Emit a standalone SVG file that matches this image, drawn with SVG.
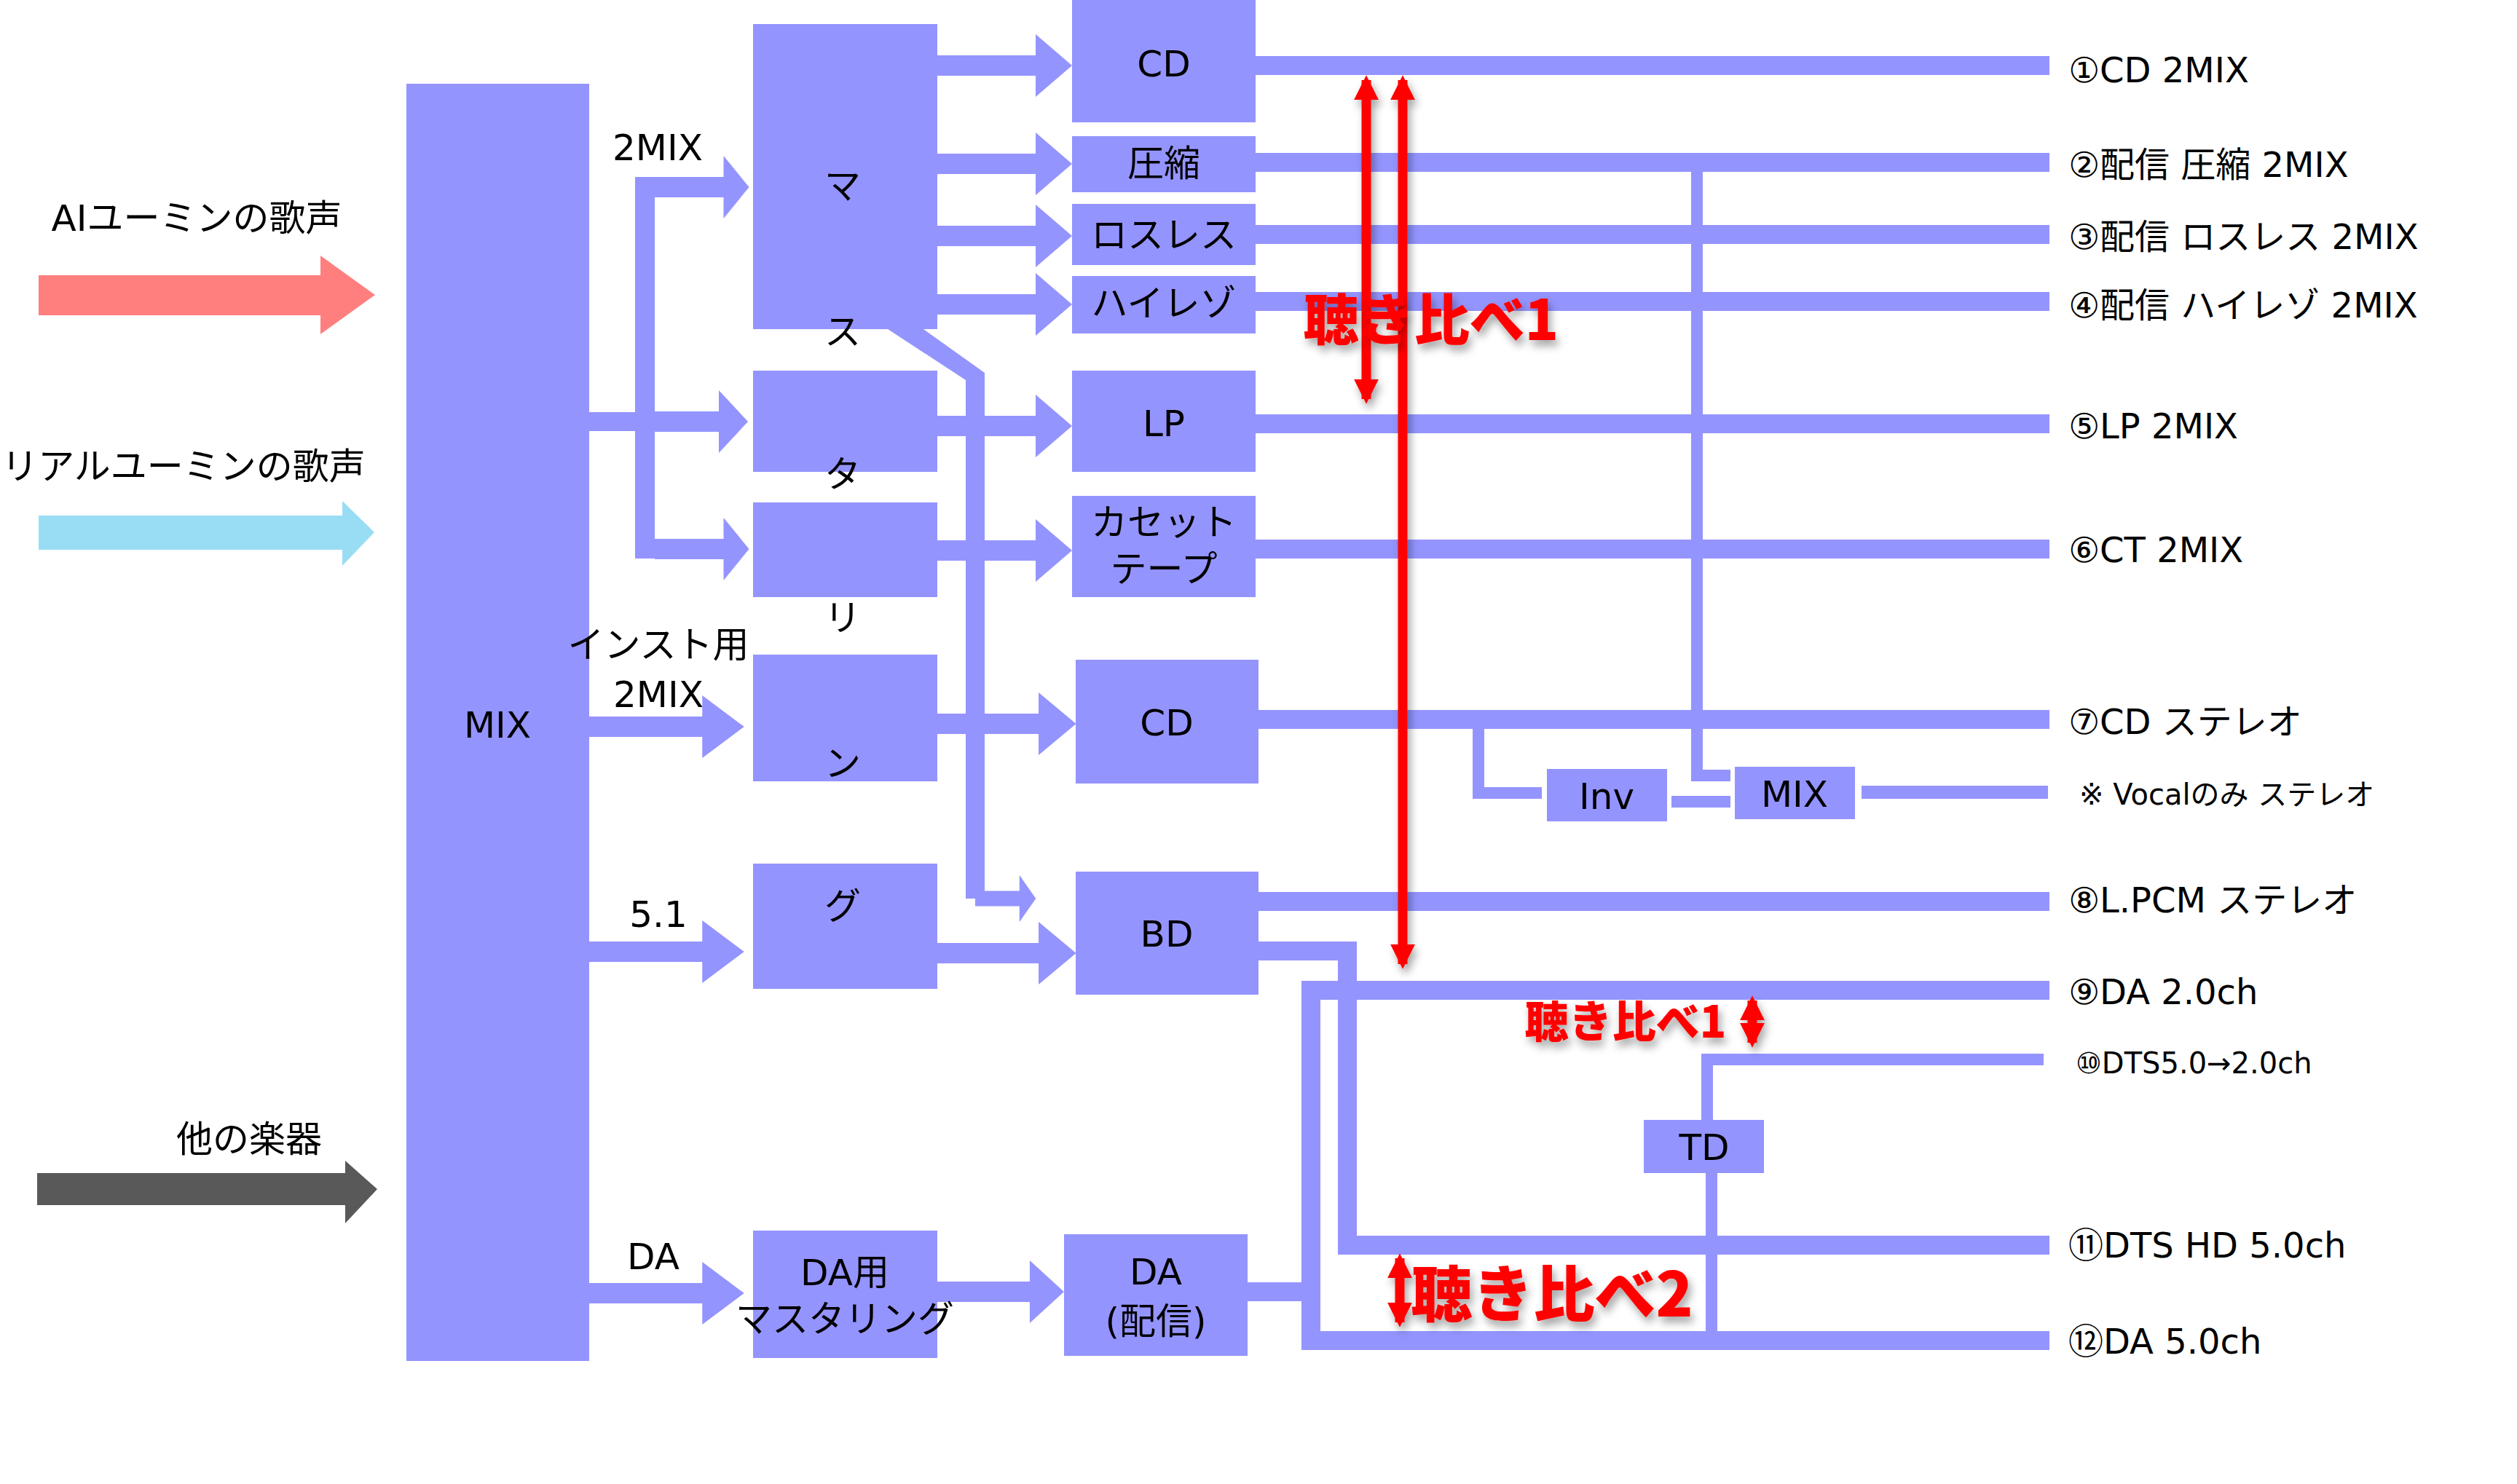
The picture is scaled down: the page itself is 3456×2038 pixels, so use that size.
<svg xmlns="http://www.w3.org/2000/svg" width="3456" height="2038" viewBox="0 0 3456 2038">
<style>
.b{fill:#9494FF}
.t{font-family:"DejaVu Sans","Noto Sans CJK JP",sans-serif;font-size:50px;fill:#000;text-anchor:middle;dominant-baseline:central}
.l{font-family:"DejaVu Sans","Noto Sans CJK JP",sans-serif;font-size:48px;fill:#000;dominant-baseline:central}
.s{font-size:40px}
.ln{stroke:#9494FF;fill:none}
.r{font-family:"Noto Sans CJK JP","DejaVu Sans",sans-serif;font-weight:900;fill:#FF0000;text-anchor:middle;dominant-baseline:central;filter:url(#sh)}
</style>
<defs>
<filter id="sh" x="-20%" y="-20%" width="140%" height="160%"><feDropShadow dx="4" dy="8" stdDeviation="6" flood-color="#000" flood-opacity="0.35"/></filter>
<marker id="rh" viewBox="0 0 10 10" refX="8" refY="5" markerWidth="2.6" markerHeight="2.6" orient="auto-start-reverse"><path d="M0,0 L10,5 L0,10 z" fill="#FF0000"/></marker>
<path id="ar" d="M0,-14 H135 V-43 L185,0 L135,43 V14 H0 Z"/>
</defs>
<g id="inputs">
<path d="M53,378 H440 V351 L515,405 L440,459 V433 H53 Z" fill="#FF7F7F"/>
<text class="t" x="270" y="300">AIユーミンの歌声</text>
<path d="M53,708 H470 V688 L514,731 L470,777 V755 H53 Z" fill="#99DDF5"/>
<text class="t" x="252" y="641">リアルユーミンの歌声</text>
<path d="M51,1611 H474 V1594 L518,1633 L474,1680 V1655 H51 Z" fill="#595959"/>
<text class="t" x="342" y="1565">他の楽器</text>
</g>
<g id="connectors">
<g class="b">
<rect x="809" y="566" width="70" height="26"/>
<use href="#ar" transform="translate(879,579) scale(0.8,1)"/>
<rect x="872" y="243" width="27" height="524"/>
<use href="#ar" transform="translate(899,257) scale(0.7,1)"/>
<use href="#ar" transform="translate(899,754) scale(0.7,1)"/>
<use href="#ar" transform="translate(809,998) scale(1.15,1)"/>
<use href="#ar" transform="translate(809,1307) scale(1.15,1)"/>
<use href="#ar" transform="translate(809,1776) scale(1.15,1)"/>
<use href="#ar" transform="translate(1287,90) scale(1.0,1)"/>
<use href="#ar" transform="translate(1287,225) scale(1.0,1)"/>
<use href="#ar" transform="translate(1287,324) scale(1.0,1)"/>
<use href="#ar" transform="translate(1287,418) scale(1.0,1)"/>
<use href="#ar" transform="translate(1287,585) scale(1.0,1)"/>
<use href="#ar" transform="translate(1287,756) scale(1.0,1)"/>
<use href="#ar" transform="translate(1287,994) scale(1.03,1)"/>
<use href="#ar" transform="translate(1287,1309) scale(1.03,1)"/>
<use href="#ar" transform="translate(1287,1774) scale(0.94,1)"/>
<path d="M1219,452 H1268 L1352,512 V1234 H1326 V522 Z"/>
<use href="#ar" transform="translate(1339,1234) scale(0.45,0.75)"/>
</g>
<g class="ln" stroke-width="26">
<path d="M1724,90 H2814"/>
<path d="M1724,223 H2814"/>
<path d="M1724,322 H2814"/>
<path d="M1724,414 H2814"/>
<path d="M1724,582 H2814"/>
<path d="M1724,754 H2814"/>
<path d="M1728,988 H2814"/>
<path d="M1728,1238 H2814"/>
<path d="M1728,1306 H1850 V1710 H2814"/>
<path d="M1713,1774 H1800 V1360 H2814"/>
<path d="M1800,1774 V1841 H2814"/>
</g>
<g class="ln" stroke-width="16">
<path d="M2330,223 V1065 H2376"/>
<path d="M2030,988 V1089 H2117"/>
<path d="M2295,1101 H2376"/>
<path d="M2344,1538 V1455 H2806"/>
<path d="M2350,1611 V1841"/>
</g>
<path class="ln" stroke-width="18" d="M2556,1088 H2812"/>
</g>
<g id="mix"><rect class="b" x="558" y="115" width="251" height="1754"/><text class="t" x="683" y="996">MIX</text></g>
<g id="mastering">
<rect class="b" x="1034" y="33" width="253" height="419"/>
<rect class="b" x="1034" y="509" width="253" height="139"/>
<rect class="b" x="1034" y="690" width="253" height="130"/>
<rect class="b" x="1034" y="899" width="253" height="174"/>
<rect class="b" x="1034" y="1186" width="253" height="172"/>
<text class="t" x="1157" y="256">マ</text><text class="t" x="1157" y="456">ス</text><text class="t" x="1157" y="652">タ</text><text class="t" x="1157" y="849">リ</text><text class="t" x="1157" y="1049">ン</text><text class="t" x="1157" y="1245">グ</text>
</g>
<g id="da-master"><rect class="b" x="1034" y="1690" width="253" height="175"/><text class="t" x="1160" y="1748">DA用</text><text class="t" x="1160" y="1812">マスタリング</text></g>
<g id="out-cd"><rect class="b" x="1472" y="0" width="252" height="168"/><text class="t" x="1598" y="88">CD</text></g>
<g id="out-comp"><rect class="b" x="1472" y="187" width="252" height="77"/><text class="t" x="1598" y="225">圧縮</text></g>
<g id="out-lossless"><rect class="b" x="1472" y="280" width="252" height="84"/><text class="t" x="1598" y="323">ロスレス</text></g>
<g id="out-hires"><rect class="b" x="1472" y="379" width="252" height="79"/><text class="t" x="1598" y="417">ハイレゾ</text></g>
<g id="out-lp"><rect class="b" x="1472" y="509" width="252" height="139"/><text class="t" x="1598" y="582">LP</text></g>
<g id="out-ct"><rect class="b" x="1472" y="681" width="252" height="139"/><text class="t" x="1598" y="718">カセット</text><text class="t" x="1598" y="782">テープ</text></g>
<g id="out-cd2"><rect class="b" x="1477" y="906" width="251" height="170"/><text class="t" x="1602" y="993">CD</text></g>
<g id="out-bd"><rect class="b" x="1477" y="1197" width="251" height="169"/><text class="t" x="1602" y="1283">BD</text></g>
<g id="out-da"><rect class="b" x="1461" y="1695" width="252" height="167"/><text class="t" x="1587" y="1747">DA</text><text class="t" x="1587" y="1815">(配信)</text></g>
<g id="inv"><rect class="b" x="2124" y="1056" width="165" height="72"/><text class="t" x="2206" y="1094">Inv</text></g>
<g id="mix2"><rect class="b" x="2382" y="1053" width="165" height="72"/><text class="t" x="2464" y="1091">MIX</text></g>
<g id="td"><rect class="b" x="2257" y="1538" width="165" height="73"/><text class="t" x="2340" y="1576">TD</text></g>
<g id="edge-labels">
<text class="t" x="903" y="203">2MIX</text>
<text class="t" x="904" y="886">インスト用</text>
<text class="t" x="904" y="954">2MIX</text>
<text class="t" x="904" y="1256">5.1</text>
<text class="t" x="897" y="1726">DA</text>
</g>
<g id="out-labels">
<text class="l" x="2840" y="96">①CD 2MIX</text>
<text class="l" x="2840" y="226">②配信 圧縮 2MIX</text>
<text class="l" x="2840" y="325">③配信 ロスレス 2MIX</text>
<text class="l" x="2840" y="419">④配信 ハイレゾ 2MIX</text>
<text class="l" x="2840" y="585">⑤LP 2MIX</text>
<text class="l" x="2840" y="755">⑥CT 2MIX</text>
<text class="l" x="2840" y="991">⑦CD ステレオ</text>
<text class="l s" x="2855" y="1091">※ Vocalのみ ステレオ</text>
<text class="l" x="2840" y="1236">⑧L.PCM ステレオ</text>
<text class="l" x="2840" y="1362">⑨DA 2.0ch</text>
<text class="l s" x="2850" y="1460">⑩DTS5.0→2.0ch</text>
<text class="l" x="2840" y="1710">⑪DTS HD 5.0ch</text>
<text class="l" x="2840" y="1842">⑫DA 5.0ch</text>
</g>
<g id="compare" stroke="#FF0000" stroke-width="13" fill="none">
<g filter="url(#sh)">
<path d="M1876,110 V548" marker-start="url(#rh)" marker-end="url(#rh)"/>
<path d="M1926,110 V1324" marker-start="url(#rh)" marker-end="url(#rh)"/>
<path d="M2406,1374 V1432" marker-start="url(#rh)" marker-end="url(#rh)"/>
<path d="M1922,1728 V1816" marker-start="url(#rh)" marker-end="url(#rh)"/>
</g>
<text class="r" stroke="none" x="1965" y="434" font-size="76">聴き比べ1</text>
<text class="r" stroke="none" x="2232" y="1398" font-size="60">聴き比べ1</text>
<text class="r" stroke="none" x="2131" y="1771" font-size="84">聴き比べ2</text>
</g>
</svg>
